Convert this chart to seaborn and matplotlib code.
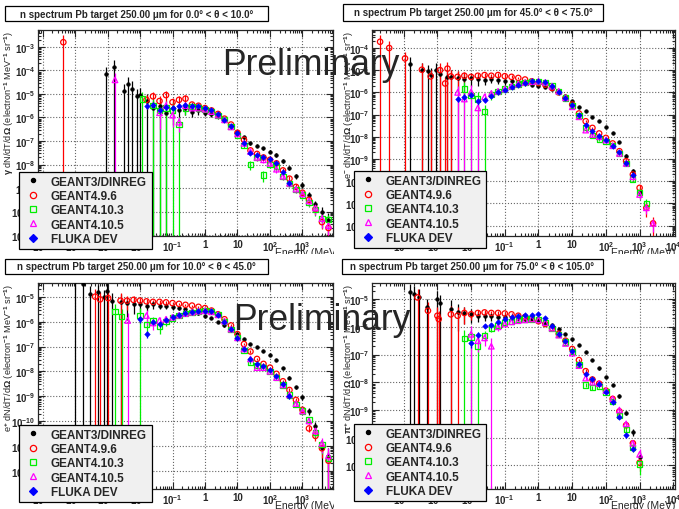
import numpy as np
import matplotlib
matplotlib.use("Agg")
import matplotlib.pyplot as plt
import seaborn as sns
from matplotlib.lines import Line2D
from matplotlib.patches import Rectangle
from matplotlib.ticker import LogLocator, FuncFormatter, NullFormatter
from matplotlib.transforms import Bbox, TransformedBbox

nan = np.nan

# %% data: log10(E / MeV) grid shared by every panel
log_e = [-2.6, -2.4, -2.2, -2.0, -1.8, -1.6, -1.4, -1.2, -1.0, -0.8, -0.6,
         -0.4, -0.2, 0.0, 0.2, 0.4, 0.6, 0.8, 1.0, 1.2, 1.4, 1.6, 1.8, 2.0,
         2.2, 2.4, 2.6, 2.8, 3.0, 3.2, 3.4, 3.6, 3.8]

models = ["GEANT3/DINREG", "GEANT4.9.6", "GEANT4.10.3", "GEANT4.10.5", "FLUKA DEV"]
particles = [r"$\gamma$", r"e$^{-}$", r"e$^{+}$", r"$\pi^{+}$"]
theta_ranges = ["0.0° < θ < 10.0°", "45.0° < θ < 75.0°",
                "10.0° < θ < 45.0°", "75.0° < θ < 105.0°"]

# values are log10 of dN/dT/dOmega, errors are relative (1 = bin with one entry)
# panel a: 0-10 deg
a_dinreg_y = [nan, nan, nan, -5.05, -5.3, -5.6, -5.5, -5.8, -5.6, -5.7, -5.6, -5.75, -5.7, -5.8, -5.85, -5.95, -6.1,
              -6.35, -6.6, -6.85, -7.1, -7.2, -7.3, -7.45, -7.6, -7.85, -8.15, -8.5, -8.85, -9.3, -9.7, -10.0, -10.35]
a_dinreg_err = [0, 0, 0, 1, 1, 1, 1, 1, 0.8, 0.6, 0.5, 0.4, 0.35, 0.3, 0.25, 0.2, 0.2,
                0.2, 0.2, 0.15, 0.15, 0.15, 0.15, 0.15, 0.2, 0.2, 0.2, 0.25, 0.3, 0.35, 0.4, 0.5, 1]
a_g496_y = [nan, nan, nan, nan, -5.25, -5.1, -5.3, -5.05, -5.35, -5.25, -5.2, -5.45, -5.5, -5.6, -5.7, -5.85, -6.05,
            -6.3, -6.65, -6.95, -7.4, -7.55, -7.7, -7.8, -7.95, -8.25, -8.6, -8.95, -9.2, -9.5, -9.9, -10.45, -10.7]
a_g496_err = [0, 0, 0, 0, 0.6, 0.5, 0.6, 0.5, 0.5, 0.4, 0.4, 0.3, 0.2, 0.15, 0.1, 0.1, 0.1,
              0.1, 0.1, 0.15, 0.2, 0.2, 0.2, 0.25, 0.25, 0.25, 0.3, 0.3, 0.3, 0.35, 0.4, 0.5, 0.6]
a_g4103_y = [nan, nan, nan, nan, nan, -5.5, -5.7, -5.6, -5.7, -6.3, -5.6, -5.55, -5.6, -5.65, -5.75, -5.9, -6.1,
             -6.4, -6.75, -7.2, -8.0, -7.7, -8.45, -8.0, -8.1, -8.5, -8.8, -9.05, -9.3, -9.6, -9.9, -10.3, -10.35]
a_g4103_err = [0, 0, 0, 0, 0, 1, 1, 1, 1, 1, 0.5, 0.4, 0.3, 0.2, 0.1, 0.1, 0.1,
               0.1, 0.15, 0.2, 0.4, 0.3, 0.5, 0.3, 0.3, 0.3, 0.3, 0.3, 0.35, 0.4, 0.5, 0.6, 0.6]
a_g4105_y = [nan, nan, nan, nan, nan, nan, -5.8, -5.5, -5.9, -6.2, -5.5, -5.6, -5.6, -5.65, -5.75, -5.9, -6.1,
             -6.4, -6.7, -7.1, -7.45, -7.7, -7.8, -7.95, -8.2, -8.5, -8.8, -9.05, -9.25, -9.55, -9.85, -10.3, -10.6]
a_g4105_err = [0, 0, 0, 0, 0, 0, 0.8, 0.6, 0.7, 0.6, 0.4, 0.3, 0.3, 0.2, 0.1, 0.1, 0.1,
               0.1, 0.15, 0.2, 0.3, 0.3, 0.3, 0.3, 0.3, 0.3, 0.3, 0.3, 0.35, 0.4, 0.5, 0.6, 0.6]
a_fluka_y = [nan, nan, nan, nan, -5.5, -5.45, -5.7, -5.55, -5.6, -5.5, -5.45, -5.5, -5.5, -5.6, -5.7, -5.85, -6.1,
             -6.35, -6.65, -7.1, -7.5, -7.6, -7.7, -7.75, -7.95, -8.3, -8.8, nan, nan, nan, nan, nan, nan]
a_fluka_err = [0, 0, 0, 0, 0.3, 0.3, 0.3, 0.3, 0.2, 0.2, 0.15, 0.1, 0.1, 0.1, 0.1, 0.1, 0.1,
               0.1, 0.1, 0.1, 0.15, 0.15, 0.15, 0.15, 0.15, 0.2, 0.2, 0, 0, 0, 0, 0, 0]
a_spk_x = [[-3.05, -2.8, -2.5, -2.38, -2.26, -2.1], [-4.36], [-1.93], [-2.77], []]
a_spk_y = [[-4.15, -3.85, -4.86, -4.57, -4.77, -5.1], [-2.8], [-5.21], [-4.4], []]

# panel b: 45-75 deg
b_dinreg_y = [-5.3, -5.35, -5.4, -5.35, -5.4, -5.45, -5.4, -5.45, -5.5, -5.5, -5.55, -5.6, -5.65, -5.7, -5.75, -5.85, -6.0,
              -6.15, -6.4, -6.65, -6.85, -7.1, -7.3, -7.55, -7.85, -8.25, -8.85, -9.55, -10.5, nan, nan, nan, nan]
b_dinreg_err = [1, 1, 0.8, 0.6, 0.5, 0.4, 0.35, 0.3, 0.3, 0.25, 0.2, 0.2, 0.15, 0.1, 0.1, 0.1, 0.1,
                0.1, 0.1, 0.1, 0.1, 0.1, 0.1, 0.1, 0.1, 0.1, 0.15, 0.2, 0.5, 0, 0, 0, 0]
b_g496_y = [-5.28, -5.3, -5.25, -5.3, -5.25, -5.22, -5.25, -5.22, -5.27, -5.3, -5.35, -5.42, -5.5, -5.58, -5.65, -5.8, -6.0,
            -6.25, -6.55, -6.95, -7.3, -7.6, -7.85, -8.05, -8.3, -8.65, -9.1, -9.7, -10.3, -11.2, -11.9, nan, nan]
b_g496_err = [1, 0.8, 0.5, 0.3, 0.3, 0.3, 0.25, 0.2, 0.2, 0.15, 0.1, 0.1, 0.1, 0.1, 0.1, 0.1, 0.1,
              0.1, 0.1, 0.1, 0.1, 0.1, 0.1, 0.1, 0.1, 0.15, 0.2, 0.3, 0.4, 0.6, 1, 0, 0]
b_g4103_y = [nan, nan, -5.85, -6.15, -6.3, -6.85, -6.1, -5.95, -5.85, -5.72, -5.62, -5.55, -5.5, -5.5, -5.55, -5.7, -5.95,
             -6.25, -6.6, -7.05, -7.6, -7.95, -8.1, -8.2, -8.4, -8.75, -9.2, -9.9, -10.5, -11.0, nan, nan, nan]
b_g4103_err = [0, 0, 1, 1, 1, 1, 0.4, 0.3, 0.2, 0.15, 0.1, 0.1, 0.1, 0.1, 0.1, 0.1, 0.1,
               0.1, 0.1, 0.1, 0.15, 0.15, 0.15, 0.15, 0.15, 0.2, 0.2, 0.3, 0.4, 0.5, 0, 0, 0]
b_g4105_y = [nan, -6.0, -6.3, -5.98, -6.7, -6.2, -6.05, -5.95, -5.85, -5.72, -5.62, -5.55, -5.52, -5.5, -5.55, -5.72, -5.95,
             -6.25, -6.65, -7.1, -7.7, -7.9, -8.0, -8.15, -8.4, -8.75, -9.2, -9.8, -10.6, -11.2, -11.9, nan, nan]
b_g4105_err = [0, 1, 1, 1, 1, 0.5, 0.4, 0.3, 0.2, 0.15, 0.1, 0.1, 0.1, 0.1, 0.1, 0.1, 0.1,
               0.1, 0.1, 0.1, 0.15, 0.15, 0.15, 0.15, 0.15, 0.2, 0.2, 0.3, 0.4, 0.5, 0.6, 0, 0]
b_fluka_y = [nan, -6.3, -6.2, -6.1, -6.4, -6.35, -6.15, -6.0, -5.88, -5.75, -5.65, -5.57, -5.5, -5.47, -5.55, -5.72, -5.97,
             -6.25, -6.55, -7.0, -7.45, -7.75, -7.95, -8.15, -8.4, -8.7, -9.2, -9.7, nan, nan, nan, nan, nan]
b_fluka_err = [0, 0.3, 0.3, 0.3, 0.3, 0.2, 0.2, 0.15, 0.1, 0.1, 0.1, 0.1, 0.1, 0.1, 0.1, 0.1, 0.1,
               0.1, 0.1, 0.1, 0.1, 0.1, 0.1, 0.1, 0.1, 0.15, 0.2, 0.2, 0, 0, 0, 0, 0]
b_spk_x = [[-3.81, -3.46, -3.29, -3.2, -3.05, -2.92, -2.72],
           [-4.7, -4.43, -3.96, -3.46, -3.2, -2.92, -2.77, -2.7], [], [], []]
b_spk_y = [[-4.72, -4.97, -5.05, -5.22, -5.0, -5.15, -5.3],
           [-3.72, -4.0, -4.47, -4.98, -5.28, -5.0, -5.6, -4.93], [], [], []]

# panel c: 10-45 deg
c_dinreg_y = [-5.2, -5.25, -5.3, -5.3, -5.35, -5.3, -5.35, -5.35, -5.4, -5.45, -5.5, -5.55, -5.65, -5.75, -5.85, -6.0, -6.15,
              -6.35, -6.5, -6.7, -6.88, -7.02, -7.18, -7.35, -7.55, -7.85, -8.25, -8.65, -9.05, -9.6, -10.2, -11.1, -11.4]
c_dinreg_err = [1, 0.8, 0.6, 0.5, 0.4, 0.35, 0.3, 0.3, 0.25, 0.2, 0.2, 0.15, 0.15, 0.1, 0.1, 0.1, 0.1,
                0.1, 0.1, 0.1, 0.1, 0.1, 0.1, 0.1, 0.1, 0.1, 0.15, 0.15, 0.2, 0.3, 0.5, 1, 1]
c_g496_y = [-5.15, -5.15, -5.12, -5.15, -5.18, -5.2, -5.2, -5.22, -5.25, -5.28, -5.32, -5.35, -5.4, -5.45, -5.55, -5.7, -5.9,
            -6.15, -6.5, -6.9, -7.2, -7.5, -7.7, -7.85, -8.1, -8.4, -8.75, -9.15, -9.55, -10.3, -10.6, -11.1, -11.6]
c_g496_err = [1, 0.6, 0.4, 0.3, 0.25, 0.2, 0.2, 0.15, 0.1, 0.1, 0.1, 0.1, 0.1, 0.1, 0.1, 0.1, 0.1,
              0.1, 0.1, 0.1, 0.1, 0.1, 0.1, 0.1, 0.1, 0.1, 0.15, 0.15, 0.2, 0.3, 0.4, 0.6, 1]
c_g4103_y = [nan, nan, nan, -5.75, -6.1, -5.95, -6.2, -6.0, -5.85, -5.75, -5.68, -5.62, -5.58, -5.55, -5.6, -5.72, -5.98,
             -6.3, -6.65, -7.15, -7.65, -7.75, -7.85, -8.0, -8.25, -8.55, -8.95, -9.35, -9.6, -9.95, -10.45, -10.95, -11.5]
c_g4103_err = [0, 0, 0, 1, 0.6, 0.4, 0.5, 0.3, 0.2, 0.15, 0.1, 0.1, 0.1, 0.1, 0.1, 0.1, 0.1,
               0.1, 0.1, 0.1, 0.15, 0.15, 0.15, 0.15, 0.15, 0.15, 0.2, 0.2, 0.25, 0.3, 0.4, 0.6, 1]
c_g4105_y = [nan, nan, nan, nan, -5.75, -6.05, -5.95, -5.9, -5.82, -5.74, -5.67, -5.62, -5.58, -5.56, -5.6, -5.72, -5.98,
             -6.3, -6.65, -7.1, -7.5, -7.85, -7.85, -8.0, -8.25, -8.55, -8.95, -9.3, -9.6, -10.0, -10.4, -10.9, -11.4]
c_g4105_err = [0, 0, 0, 0, 0.6, 0.5, 0.4, 0.3, 0.2, 0.15, 0.1, 0.1, 0.1, 0.1, 0.1, 0.1, 0.1,
               0.1, 0.1, 0.1, 0.15, 0.15, 0.15, 0.15, 0.15, 0.15, 0.2, 0.2, 0.25, 0.3, 0.4, 0.6, 1]
c_fluka_y = [nan, nan, nan, -5.9, -6.5, -6.0, -6.1, -5.95, -5.82, -5.72, -5.65, -5.6, -5.57, -5.55, -5.58, -5.72, -6.0,
             -6.3, -6.65, -7.1, -7.5, -7.7, -7.8, -7.95, -8.2, -8.5, -9.0, nan, nan, nan, nan, nan, nan]
c_fluka_err = [0, 0, 0, 0.3, 0.3, 0.2, 0.2, 0.15, 0.1, 0.1, 0.1, 0.1, 0.1, 0.1, 0.1, 0.1, 0.1,
               0.1, 0.1, 0.1, 0.1, 0.1, 0.1, 0.1, 0.1, 0.15, 0.2, 0, 0, 0, 0, 0, 0]
c_spk_x = [[-4.0, -3.75, -3.54, -3.28, -3.12, -3.02, -2.87], [-3.38, -3.23, -2.98], [-2.77, -2.56], [-2.38], []]
c_spk_y = [[-4.35, -4.48, -4.88, -4.81, -5.01, -4.75, -5.15], [-4.99, -5.1, -5.05], [-5.6, -5.8], [-5.95], []]

# panel d: 75-105 deg
d_dinreg_y = [-5.35, -5.45, -5.5, -5.55, -5.6, -5.6, -5.62, -5.65, -5.65, -5.68, -5.7, -5.72, -5.72, -5.75, -5.85, -5.95, -6.08,
              -6.25, -6.45, -6.65, -6.9, -7.2, -7.5, -7.8, -8.1, -8.5, -9.1, -9.8, -10.7, nan, nan, nan, nan]
d_dinreg_err = [1, 0.8, 0.6, 0.5, 0.4, 0.35, 0.3, 0.3, 0.25, 0.2, 0.2, 0.15, 0.15, 0.1, 0.1, 0.1, 0.1,
                0.1, 0.1, 0.1, 0.1, 0.1, 0.1, 0.1, 0.1, 0.15, 0.2, 0.3, 0.6, 0, 0, 0, 0]
d_g496_y = [-5.55, -5.6, -5.5, -5.55, -5.5, -5.48, -5.5, -5.5, -5.52, -5.55, -5.6, -5.65, -5.72, -5.8, -5.9, -6.05, -6.25,
            -6.5, -6.8, -7.2, -7.6, -7.9, -8.05, -8.3, -8.6, -9.05, -9.55, -10.2, -10.9, nan, nan, nan, nan]
d_g496_err = [1, 1, 0.6, 0.4, 0.3, 0.25, 0.2, 0.15, 0.1, 0.1, 0.1, 0.1, 0.1, 0.1, 0.1, 0.1, 0.1,
              0.1, 0.1, 0.1, 0.15, 0.15, 0.15, 0.15, 0.15, 0.2, 0.2, 0.3, 0.5, 0, 0, 0, 0]
d_g4103_y = [nan, nan, -6.41, -6.37, -6.69, -6.3, -6.05, -5.95, -5.85, -5.8, -5.75, -5.72, -5.72, -5.75, -5.85, -6.05, -6.28,
             -6.55, -6.9, -7.35, -8.1, -8.2, -8.15, -8.35, -8.7, -9.2, -9.7, -10.35, -10.95, nan, nan, nan, nan]
d_g4103_err = [0, 0, 1, 1, 1, 0.4, 0.3, 0.2, 0.15, 0.1, 0.1, 0.1, 0.1, 0.1, 0.1, 0.1, 0.1,
               0.1, 0.1, 0.1, 0.15, 0.15, 0.15, 0.15, 0.15, 0.2, 0.2, 0.3, 0.6, 0, 0, 0, 0]
d_g4105_y = [nan, nan, nan, -6.27, -6.5, -6.4, -6.7, -6.0, -5.9, -5.82, -5.78, -5.75, -5.72, -5.75, -5.85, -6.05, -6.3,
             -6.6, -6.95, -7.4, -7.85, -8.0, -8.05, -8.3, -8.6, -9.0, -9.5, -10.2, -10.6, nan, nan, nan, nan]
d_g4105_err = [0, 0, 0, 1, 0.6, 0.5, 1, 0.3, 0.15, 0.1, 0.1, 0.1, 0.1, 0.1, 0.1, 0.1, 0.1,
               0.1, 0.1, 0.1, 0.15, 0.15, 0.15, 0.15, 0.15, 0.2, 0.2, 0.3, 0.5, 0, 0, 0, 0]
d_fluka_y = [nan, nan, nan, -6.6, -6.3, -5.96, -5.95, -5.82, -5.72, -5.66, -5.62, -5.58, -5.56, -5.55, -5.7, -5.97, -6.25,
             -6.5, -6.88, -7.35, -7.7, -7.88, -8.05, -8.35, -8.7, -9.25, -9.9, -10.4, nan, nan, nan, nan, nan]
d_fluka_err = [0, 0, 0, 0.3, 0.3, 0.2, 0.2, 0.15, 0.1, 0.1, 0.1, 0.1, 0.1, 0.1, 0.1, 0.1, 0.1,
               0.1, 0.1, 0.1, 0.1, 0.1, 0.1, 0.1, 0.1, 0.15, 0.2, 0.2, 0, 0, 0, 0, 0]
d_spk_x = [[-3.81, -3.69, -3.56, -3.3, -3.02, -2.92], [-3.59, -3.28, -3.0, -2.96], [], [], []]
d_spk_y = [[-4.76, -4.82, -4.94, -5.3, -5.0, -5.15], [-4.94, -5.42, -5.6, -5.72], [], [], []]

# panel axis ranges (log10)
x_ranges = [(-5.14, 3.94), (-4.94, 4.05), (-5.14, 3.94), (-4.94, 4.05)]
y_ranges = [(-11.04, -2.28), (-12.47, -3.19), (-12.74, -4.44), (-11.85, -4.42)]

# %% style
sns.set_style("ticks")
plt.rcParams["font.family"] = ["Liberation Sans", "DejaVu Sans"]
plt.rcParams["font.weight"] = "bold"
plt.rcParams["mathtext.fontset"] = "custom"
plt.rcParams["mathtext.rm"] = "Liberation Sans:bold"
plt.rcParams["mathtext.bf"] = "Liberation Sans:bold"
plt.rcParams["mathtext.it"] = "Liberation Sans:bold:italic"
plt.rcParams["mathtext.default"] = "rm"

colors = ["black", "#ff0000", "#00ee00", "#ff00ff", "#0000ff"]
markers = ["o", "o", "s", "^", "D"]
filled = [True, False, False, False, True]
sizes = [7, 15, 14, 16, 8]

W, H = 679, 510
fig = plt.figure(figsize=(W / 100, H / 100), dpi=100)


def px_box(x0, y0, x1, y1):
    return [x0 / W, 1 - y1 / H, (x1 - x0) / W, (y1 - y0) / H]


def log_label(v, pos):
    n = int(round(np.log10(v)))
    if n == 0:
        return "1"
    if n == 1:
        return "10"
    return r"$10^{%d}$" % n


axes_px = [(38, 31, 333, 237), (372, 31, 675, 237), (38, 284, 333, 490), (372, 284, 675, 490)]
title_px = [(5, 7, 268, 22), (343, 5, 603, 22), (5, 260, 268, 275), (342, 260, 603, 275)]
legend_px = [(19, 173, 152, 247), (354, 172, 486, 249), (19, 426, 152, 501), (354, 425, 486, 503)]
pad_px = [(0, 0, 334, 255), (340, 0, 679, 255), (0, 255, 334, 510), (340, 255, 679, 510)]

panels = [
    ([a_dinreg_y, a_g496_y, a_g4103_y, a_g4105_y, a_fluka_y],
     [a_dinreg_err, a_g496_err, a_g4103_err, a_g4105_err, a_fluka_err], a_spk_x, a_spk_y),
    ([b_dinreg_y, b_g496_y, b_g4103_y, b_g4105_y, b_fluka_y],
     [b_dinreg_err, b_g496_err, b_g4103_err, b_g4105_err, b_fluka_err], b_spk_x, b_spk_y),
    ([c_dinreg_y, c_g496_y, c_g4103_y, c_g4105_y, c_fluka_y],
     [c_dinreg_err, c_g496_err, c_g4103_err, c_g4105_err, c_fluka_err], c_spk_x, c_spk_y),
    ([d_dinreg_y, d_g496_y, d_g4103_y, d_g4105_y, d_fluka_y],
     [d_dinreg_err, d_g496_err, d_g4103_err, d_g4105_err, d_fluka_err], d_spk_x, d_spk_y),
]

energy = 10 ** np.array(log_e)

for i, (ys, errs, spx, spy) in enumerate(panels):
    ax = fig.add_axes(px_box(*axes_px[i]))
    ax.set_xscale("log")
    ax.set_yscale("log")
    ax.set_xlim(10 ** x_ranges[i][0], 10 ** x_ranges[i][1])
    ax.set_ylim(10 ** y_ranges[i][0], 10 ** y_ranges[i][1])

    for k in range(5):
        f = 10 ** np.array(ys[k])
        rel = np.array(errs[k], dtype=float)
        ok = ~np.isnan(f)
        e_all = np.concatenate([energy[ok], 10 ** np.array(spx[k], dtype=float)])
        f_all = np.concatenate([f[ok], 10 ** np.array(spy[k], dtype=float)])
        r_all = np.concatenate([rel[ok], np.ones(len(spx[k]))])
        ax.errorbar(e_all, f_all, yerr=[f_all * r_all, f_all * r_all], fmt="none",
                    ecolor=colors[k], elinewidth=0.9, capsize=0, zorder=2 + k * 0.1)
        if filled[k]:
            sns.scatterplot(x=e_all, y=f_all, ax=ax, marker=markers[k], s=sizes[k],
                            color=colors[k], edgecolor=colors[k], linewidth=0.4, zorder=3 + k * 0.1)
        else:
            sns.scatterplot(x=e_all, y=f_all, ax=ax, marker=markers[k], s=sizes[k],
                            color=colors[k], facecolor="none", edgecolor=colors[k],
                            linewidth=0.9, zorder=3 + k * 0.1)

    ax.xaxis.set_major_locator(LogLocator(base=10, numticks=30))
    ax.xaxis.set_minor_locator(LogLocator(base=10, subs=np.arange(2, 10), numticks=30))
    ax.yaxis.set_major_locator(LogLocator(base=10, numticks=30))
    ax.yaxis.set_minor_locator(LogLocator(base=10, subs=np.arange(2, 10), numticks=30))
    ax.xaxis.set_major_formatter(FuncFormatter(log_label))
    ax.yaxis.set_major_formatter(FuncFormatter(log_label))
    ax.xaxis.set_minor_formatter(NullFormatter())
    ax.yaxis.set_minor_formatter(NullFormatter())
    ax.tick_params(which="both", direction="in", top=True, right=True, labelsize=7, width=0.8, pad=2)
    ax.tick_params(which="major", length=5)
    ax.tick_params(which="minor", length=2.5)
    ax.grid(True, which="major", ls=":", color="0.4", lw=0.8)
    ax.set_axisbelow(True)
    for s in ax.spines.values():
        s.set_linewidth(0.9)

    ylab = particles[i] + r" dN/dT/d$\Omega$ (electron$^{-1}$ MeV$^{-1}$ sr$^{-1}$)"
    ax.set_ylabel(ylab, loc="top", fontsize=6.6)
    ax.yaxis.label.set_va("center")
    ax.yaxis.set_label_coords((-29 / 295) if i % 2 == 0 else (-23 / 303), 1.0)
    ax.set_xlabel("Energy (MeV)", loc="right", fontsize=7.5, labelpad=1)
    ax.xaxis.set_label_coords(1.02 if i % 2 == 0 else 1.0, -0.055)
    xl = ax.xaxis.label
    xl.set_va("top")
    pb = px_box(*pad_px[i])
    xl.set_clip_box(TransformedBbox(Bbox.from_bounds(*pb), fig.transFigure))
    xl.set_clip_on(True)

    handles = []
    for k in range(5):
        handles.append(Line2D([], [], ls="none", marker=markers[k], color=colors[k],
                              markerfacecolor=colors[k] if filled[k] else "none",
                              markeredgewidth=0.9, markersize=3 if k == 0 else 4.5))
    lb = px_box(*legend_px[i])
    leg = ax.legend(handles, models, loc="upper left", bbox_to_anchor=(lb[0], lb[1] + lb[3], lb[2], 0),
                    bbox_transform=fig.transFigure, mode="expand", borderaxespad=0, fontsize=8.5,
                    frameon=True, fancybox=False, framealpha=1, facecolor="#f0f0f0", edgecolor="black",
                    handlelength=1.8, handletextpad=0.6, labelspacing=0.2, borderpad=0.3)
    leg.get_frame().set_linewidth(0.9)
    leg.set_zorder(10)

    tb = px_box(*title_px[i])
    fig.add_artist(Rectangle((tb[0], tb[1]), tb[2], tb[3], transform=fig.transFigure,
                             facecolor="white", edgecolor="black", lw=0.9))
    fig.text(tb[0] + tb[2] / 2, tb[1] + tb[3] / 2,
             "n spectrum Pb target 250.00 μm for " + theta_ranges[i],
             ha="center", va="center", fontsize=7)

fig.text(222 / W, 1 - 75 / H, "Preliminary", fontsize=25.6, fontweight="normal",
         ha="left", va="baseline", zorder=20)
fig.text(233 / W, 1 - 330 / H, "Preliminary", fontsize=25.6, fontweight="normal",
         ha="left", va="baseline", zorder=20)

fig.savefig("out.png", dpi=100)
